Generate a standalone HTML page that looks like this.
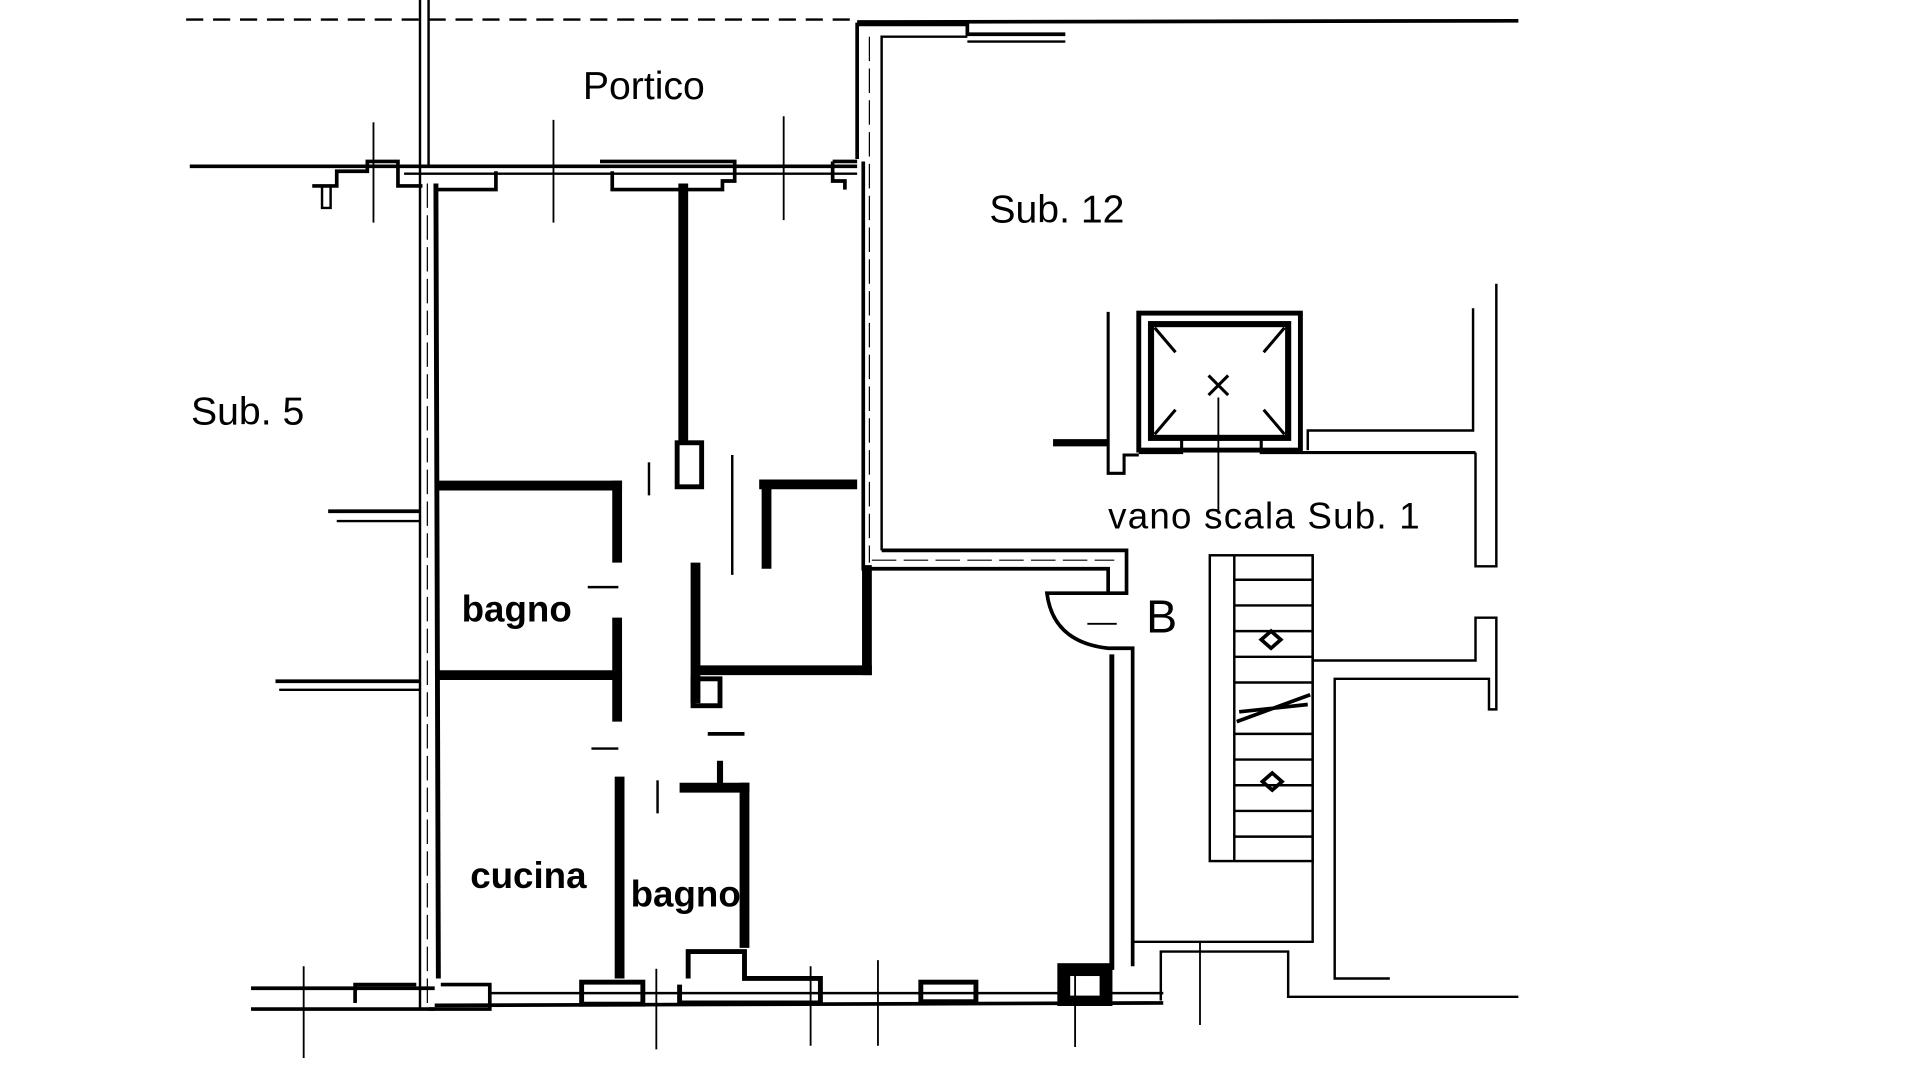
<!DOCTYPE html>
<html><head><meta charset="utf-8"><style>
html,body{margin:0;padding:0;background:#fff;width:1920px;height:1080px;overflow:hidden}
svg{display:block}
text{font-family:"Liberation Sans Narrow","Liberation Sans",sans-serif;fill:#000}
</style></head><body>
<svg width="1920" height="1080" viewBox="0 0 1568 883" preserveAspectRatio="none" xmlns="http://www.w3.org/2000/svg">
<g stroke="#000" fill="none" stroke-width="2">
<line x1="152" y1="16" x2="700" y2="16" stroke-dasharray="14 8"/>
<line x1="700" y1="18" x2="1240" y2="17" stroke-width="3"/>
<line x1="343" y1="0" x2="343" y2="135"/><line x1="350" y1="0" x2="350" y2="135"/>
<line x1="155" y1="136" x2="700" y2="136" stroke-width="3"/>
<line x1="330" y1="142" x2="700" y2="142"/>
<path d="M255 152 H275 V140 H300 V132 H325 V152 H345" stroke-width="3"/>
<path d="M263 152 V170 H270 V152" stroke-width="2"/>
<path d="M355 155 H405 V140" stroke-width="3"/>
<path d="M490 132 H600 V148 H590 V155 H500 V140" stroke-width="3"/>
<path d="M680 132 H700 M680 132 V148 H690 V155" stroke-width="3"/>
<line x1="343" y1="135" x2="343" y2="825" stroke-width="2"/>
<line x1="356" y1="150" x2="358" y2="800" stroke-width="4"/>
<line x1="349" y1="150" x2="349" y2="820" stroke-dasharray="20 6" stroke-width="1"/>
<path d="M700 130 V20 H790 V28 H870" stroke-width="3"/>
<path d="M720 450 V30 H790 M790 34 H870"/>
<line x1="710" y1="30" x2="710" y2="460" stroke-dasharray="20 6" stroke-width="1"/>
<path d="M705 132 V465 H905 V485 H920 V450 H720" stroke-width="3"/>
<line x1="712" y1="458" x2="910" y2="458" stroke-dasharray="20 6" stroke-width="1"/>
<g stroke-width="8">
<line x1="558" y1="150" x2="558" y2="362"/>
<line x1="358" y1="397" x2="508" y2="397"/>
<line x1="504" y1="393" x2="504" y2="460"/>
<line x1="504" y1="505" x2="504" y2="590"/>
<line x1="358" y1="552" x2="508" y2="552"/>
<line x1="626" y1="392" x2="626" y2="465"/>
<line x1="620" y1="396" x2="700" y2="396"/>
<line x1="568" y1="460" x2="568" y2="575"/>
<line x1="568" y1="548" x2="712" y2="548"/>
<line x1="708" y1="462" x2="708" y2="552"/>
<line x1="506" y1="635" x2="506" y2="800"/>
<line x1="555" y1="644" x2="612" y2="644"/>
<line x1="608" y1="640" x2="608" y2="775"/>
</g>
<rect x="553" y="362" width="20" height="36" stroke-width="4"/>
<rect x="566" y="555" width="22" height="22" stroke-width="4"/>
<line x1="588" y1="622" x2="588" y2="644" stroke-width="5"/>
<path d="M562 800 V778 H608 V800 H670 V820 H555 V805" stroke-width="4"/>
<line x1="480" y1="480" x2="505" y2="480"/><line x1="483" y1="612" x2="505" y2="612"/>
<line x1="578" y1="600" x2="608" y2="600" stroke-width="3"/>
<line x1="530" y1="378" x2="530" y2="405"/><line x1="598" y1="372" x2="598" y2="470"/>
<line x1="537" y1="638" x2="537" y2="665"/>
<line x1="205" y1="808" x2="355" y2="808" stroke-width="3"/>
<line x1="205" y1="825" x2="355" y2="825" stroke-width="3"/>
<path d="M290 820 V805 H340" stroke-width="3"/>
<path d="M350 825 H400 V805 H360" stroke-width="3"/>
<line x1="400" y1="812" x2="950" y2="812" stroke-width="2"/>
<line x1="355" y1="822" x2="950" y2="820" stroke-width="3"/>
<rect x="475" y="803" width="50" height="18" stroke-width="4"/>
<rect x="752" y="803" width="45" height="16" stroke-width="4"/>
<rect x="866" y="790" width="40" height="30" stroke-width="5" fill="#000"/>
<rect x="874" y="798" width="24" height="16" fill="#fff" stroke="none"/>
<line x1="268" y1="418" x2="343" y2="418" stroke-width="3"/><line x1="275" y1="426" x2="343" y2="426"/>
<line x1="225" y1="557" x2="343" y2="557" stroke-width="3"/><line x1="228" y1="564" x2="343" y2="564"/>
<line x1="305" y1="100" x2="305" y2="182" stroke-width="1.5"/>
<line x1="452" y1="98" x2="452" y2="182" stroke-width="1.5"/>
<line x1="640" y1="95" x2="640" y2="180" stroke-width="1.5"/>
<line x1="248" y1="790" x2="248" y2="865" stroke-width="1.5"/>
<line x1="536" y1="792" x2="536" y2="858" stroke-width="1.5"/>
<line x1="662" y1="790" x2="662" y2="855" stroke-width="1.5"/>
<line x1="717" y1="785" x2="717" y2="855" stroke-width="1.5"/>
<line x1="878" y1="790" x2="878" y2="856" stroke-width="1.5"/>
<line x1="980" y1="770" x2="980" y2="838" stroke-width="1.5"/>
<path d="M905 485 H855 Q860 525 905 530 H925 V790" stroke-width="3"/>
<line x1="908" y1="535" x2="908" y2="793" stroke-width="4"/>
<line x1="888" y1="510" x2="912" y2="510" stroke-width="1.5"/>
<path d="M925 770 H1072 V455" stroke-width="2"/>
<path d="M948 818 V778 H1052 V815 H1240" stroke-width="2"/>
<rect x="988" y="454" width="84" height="250" stroke-width="2"/>
<line x1="1008" y1="454" x2="1008" y2="704" stroke-width="2"/>
<g stroke-width="2">
<line x1="1008" y1="474" x2="1072" y2="474"/><line x1="1008" y1="495" x2="1072" y2="495"/>
<line x1="1008" y1="516" x2="1072" y2="516"/><line x1="1008" y1="537" x2="1072" y2="537"/>
<line x1="1008" y1="558" x2="1072" y2="558"/><line x1="1008" y1="600" x2="1072" y2="600"/>
<line x1="1008" y1="621" x2="1072" y2="621"/><line x1="1008" y1="642" x2="1072" y2="642"/>
<line x1="1008" y1="663" x2="1072" y2="663"/><line x1="1008" y1="684" x2="1072" y2="684"/>
</g>
<path d="M1010 590 L1070 568 M1012 582 L1068 576" stroke-width="3"/>
<path d="M1030 523 L1038 516 L1046 523 L1038 530 Z" stroke-width="3"/>
<path d="M1031 639 L1039 632 L1047 639 L1039 646 Z" stroke-width="3"/>
<rect x="930" y="256" width="132" height="112" stroke-width="4"/>
<rect x="940" y="265" width="112" height="93" stroke-width="5"/>
<path d="M943 268 L960 288 M1049 268 L1032 288 M943 355 L960 335 M1049 355 L1032 335" stroke-width="2.5"/>
<path d="M987 307 L1003 323 M1003 307 L987 323" stroke-width="2.5"/>
<line x1="995" y1="325" x2="995" y2="420" stroke-width="1.5"/>
<path d="M905 255 V387 H918 V372 H930 M1030 360 V370 H1205" stroke-width="2.5"/>
<path d="M965 360 V370 H930" stroke-width="2.5"/>
<line x1="860" y1="362" x2="905" y2="362" stroke-width="6"/>
<path d="M1068 368 V352 H1203 V252" stroke-width="2"/>
<path d="M1205 370 V463 H1222 V232" stroke-width="2"/>
<path d="M1072 540 H1205 V505 H1222 V580 H1216 V555 H1090 V800 H1135" stroke-width="2"/>
</g>
<text x="476" y="81" font-size="32">Portico</text>
<text x="808" y="182" font-size="32">Sub. 12</text>
<text x="156" y="347" font-size="32">Sub. 5</text>
<text x="905" y="432" font-size="30" letter-spacing="1">vano scala Sub. 1</text>
<text x="377" y="508" font-size="30" font-weight="bold">bagno</text>
<text x="384" y="726" font-size="30" font-weight="bold">cucina</text>
<text x="515" y="741" font-size="30" font-weight="bold">bagno</text>
<text x="936" y="517" font-size="38">B</text>
</svg>
</body></html>
